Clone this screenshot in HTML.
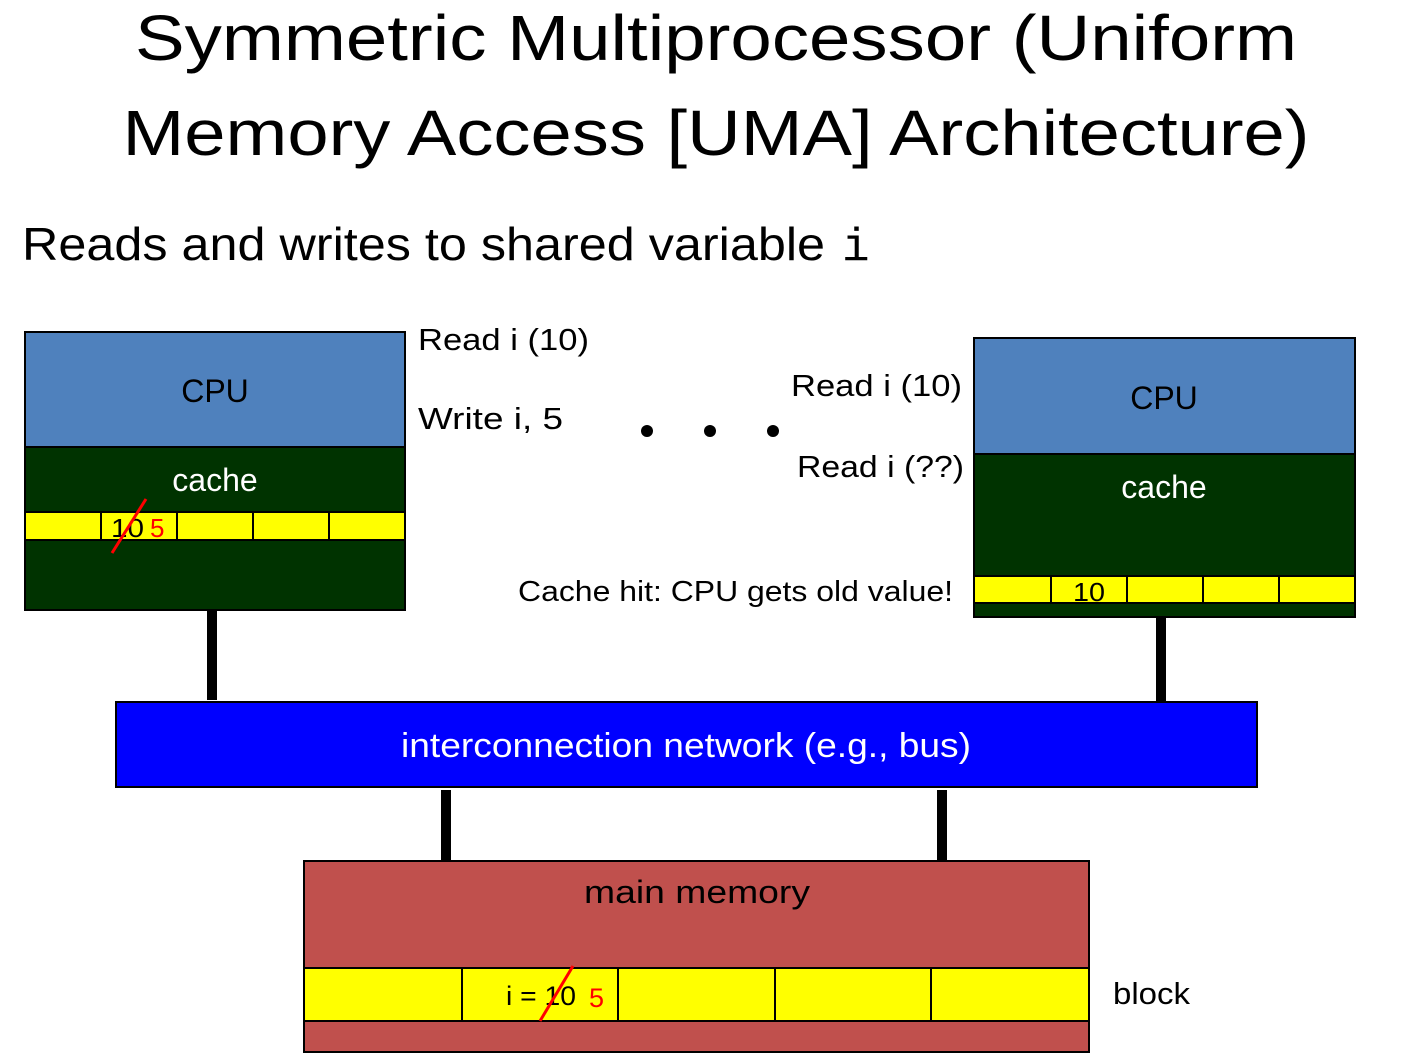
<!DOCTYPE html>
<html><head><meta charset="utf-8"><style>html,body{margin:0;padding:0;background:#fff}svg{display:block}text{font-family:"Liberation Sans",sans-serif}</style></head>
<body>
<svg width="1426" height="1063" viewBox="0 0 1426 1063" xmlns="http://www.w3.org/2000/svg">
<text x="716" y="60" font-size="64" text-anchor="middle" textLength="1162" lengthAdjust="spacingAndGlyphs">Symmetric Multiprocessor (Uniform</text>
<text x="716" y="155" font-size="64" text-anchor="middle" textLength="1187" lengthAdjust="spacingAndGlyphs">Memory Access [UMA] Architecture)</text>
<text x="22" y="260" font-size="46" textLength="803" lengthAdjust="spacingAndGlyphs">Reads and writes to shared variable</text>
<text x="842" y="260" font-size="46" style="font-family:'Liberation Mono',monospace">i</text>

<rect x="25" y="332" width="380" height="115" fill="#4f81bd" stroke="#000" stroke-width="2"/>
<rect x="25" y="447" width="380" height="163" fill="#003300" stroke="#000" stroke-width="2"/>
<rect x="25" y="512" width="380" height="28" fill="#ffff00" stroke="#000" stroke-width="2"/>
<g stroke="#000" stroke-width="2"><line x1="101" y1="512" x2="101" y2="540"/><line x1="177" y1="512" x2="177" y2="540"/><line x1="253" y1="512" x2="253" y2="540"/><line x1="329" y1="512" x2="329" y2="540"/></g>
<text x="215" y="402" font-size="32" text-anchor="middle">CPU</text>
<text x="215" y="491" font-size="32" text-anchor="middle" fill="#fff">cache</text>
<text x="111" y="537" font-size="26" textLength="33" lengthAdjust="spacingAndGlyphs">10</text>
<text x="150" y="537" font-size="26" fill="#f00">5</text>
<line x1="112" y1="553" x2="146" y2="499" stroke="#f00" stroke-width="3"/>

<rect x="974" y="338" width="381" height="116" fill="#4f81bd" stroke="#000" stroke-width="2"/>
<rect x="974" y="454" width="381" height="163" fill="#003300" stroke="#000" stroke-width="2"/>
<rect x="974" y="576" width="381" height="27" fill="#ffff00" stroke="#000" stroke-width="2"/>
<g stroke="#000" stroke-width="2"><line x1="1051" y1="576" x2="1051" y2="603"/><line x1="1127" y1="576" x2="1127" y2="603"/><line x1="1203" y1="576" x2="1203" y2="603"/><line x1="1279" y1="576" x2="1279" y2="603"/></g>
<text x="1164" y="409" font-size="32" text-anchor="middle">CPU</text>
<text x="1164" y="498" font-size="32" text-anchor="middle" fill="#fff">cache</text>
<text x="1073" y="601" font-size="26" textLength="32" lengthAdjust="spacingAndGlyphs">10</text>

<text x="418" y="350" font-size="31" textLength="171" lengthAdjust="spacingAndGlyphs">Read i (10)</text>
<text x="418" y="429" font-size="31" textLength="145" lengthAdjust="spacingAndGlyphs">Write i, 5</text>
<text x="791" y="396" font-size="31" textLength="171" lengthAdjust="spacingAndGlyphs">Read i (10)</text>
<text x="797" y="477" font-size="31" textLength="167" lengthAdjust="spacingAndGlyphs">Read i (??)</text>
<text x="518" y="601" font-size="29" textLength="435" lengthAdjust="spacingAndGlyphs">Cache hit: CPU gets old value!</text>
<circle cx="647" cy="431" r="6"/><circle cx="710" cy="431" r="6"/><circle cx="773" cy="431" r="6"/>

<rect x="207" y="610" width="10" height="90"/>
<rect x="1156" y="617" width="10" height="85"/>
<rect x="441" y="790" width="10" height="71"/>
<rect x="937" y="790" width="10" height="71"/>

<rect x="116" y="702" width="1141" height="85" fill="#0000ff" stroke="#000" stroke-width="2"/>
<text x="686" y="757" font-size="34" text-anchor="middle" fill="#fff" textLength="570" lengthAdjust="spacingAndGlyphs">interconnection network (e.g., bus)</text>

<rect x="304" y="861" width="785" height="191" fill="#c0504d" stroke="#000" stroke-width="2"/>
<rect x="304" y="968" width="785" height="53" fill="#ffff00" stroke="#000" stroke-width="2"/>
<g stroke="#000" stroke-width="2"><line x1="462" y1="968" x2="462" y2="1021"/><line x1="618" y1="968" x2="618" y2="1021"/><line x1="775" y1="968" x2="775" y2="1021"/><line x1="931" y1="968" x2="931" y2="1021"/></g>
<text x="697" y="903" font-size="32" text-anchor="middle" textLength="226" lengthAdjust="spacingAndGlyphs">main memory</text>
<text x="506" y="1005" font-size="27" textLength="70" lengthAdjust="spacingAndGlyphs">i = 10</text>
<text x="589" y="1007" font-size="27" fill="#f00">5</text>
<line x1="540" y1="1021" x2="573" y2="966" stroke="#f00" stroke-width="3"/>
<text x="1113" y="1004" font-size="31" textLength="77" lengthAdjust="spacingAndGlyphs">block</text>
</svg>
</body></html>
